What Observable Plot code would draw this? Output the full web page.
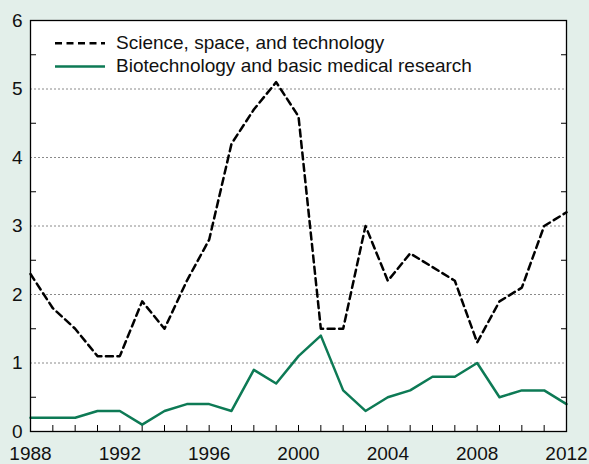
<!DOCTYPE html>
<html><head><meta charset="utf-8">
<script src="https://cdn.jsdelivr.net/npm/d3@7"></script>
<script src="https://cdn.jsdelivr.net/npm/@observablehq/plot@0.6"></script>
<style>
html,body{margin:0;padding:0;background:#e3efea;}
#chart{width:589px;height:464px;}
</style></head><body><div id="chart"></div>
<script>
const years = [1988,1989,1990,1991,1992,1993,1994,1995,1996,1997,1998,1999,2000,2001,2002,2003,2004,2005,2006,2007,2008,2009,2010,2011,2012];
const science = [2.3,1.8,1.5,1.1,1.1,1.9,1.5,2.2,2.8,4.2,4.7,5.1,4.6,1.5,1.5,3.0,2.2,2.6,2.4,2.2,1.3,1.9,2.1,3.0,3.2];
const biotech = [0.2,0.2,0.2,0.3,0.3,0.1,0.3,0.4,0.4,0.3,0.9,0.7,1.1,1.4,0.6,0.3,0.5,0.6,0.8,0.8,1.0,0.5,0.6,0.6,0.4];
const seriesNames = ["Science, space, and technology", "Biotechnology and basic medical research"];
const yLabels = [0,1,2,3,4,5,6];
const yGrid = [1,2,3,4,5];
const yHalf = [0.5,1.5,2.5,3.5,4.5,5.5];
const xLabels = [1988,1992,1996,2000,2004,2008,2012];

const rows = years.map((y,i)=>({year:y, science:science[i], biotech:biotech[i]}));
const green = "#0d7a55";
const font = "'Liberation Sans', Arial, sans-serif";
const fs = 19;

const chart = Plot.plot({
  width: 589, height: 464,
  marginLeft: 30, marginRight: 23, marginTop: 20, marginBottom: 33,
  style: {background: "#e3efea", fontFamily: font, fontSize: fs + "px", color: "#111"},
  x: {domain: [1988, 2012]},
  y: {domain: [0, 6]},
  marks: [
    Plot.frame({fill: "white"}),
    Plot.gridY(yGrid, {stroke: "#8a8a8a", strokeOpacity: 1, strokeDasharray: "2,2", strokeWidth: 1}),
    Plot.axisY(yLabels, {anchor: "left", tickSize: 0, tickPadding: 8, label: null, fontSize: fs, tickFormat: d => String(d)}),
    Plot.axisY(yHalf, {anchor: "left", tickSize: -6, text: null, label: null, stroke: "black"}),
    Plot.axisY(yHalf, {anchor: "right", tickSize: -6, text: null, label: null, stroke: "black"}),
    Plot.axisX(years, {anchor: "bottom", tickSize: -6, text: null, label: null, stroke: "black"}),
    Plot.axisX(xLabels, {anchor: "bottom", tickSize: 0, tickPadding: 15, label: null, fontSize: fs, tickFormat: d => String(d)}),
    Plot.lineY(rows, {x: "year", y: "biotech", stroke: green, strokeWidth: 2.5}),
    Plot.lineY(rows, {x: "year", y: "science", stroke: "black", strokeWidth: 2.5, strokeDasharray: "7,4.5"}),
    Plot.frame({stroke: "black", strokeWidth: 1.3})
  ]
});
document.getElementById("chart").appendChild(chart);

// in-plot legend
const svg = d3.select(chart);
const lg = svg.append("g").attr("font-family", font).attr("font-size", fs).attr("fill", "#111").attr("text-anchor", "start");
const styles = [{stroke: "black", dash: "7,4.5"}, {stroke: green, dash: null}];
seriesNames.forEach((name, i) => {
  const y = 43.3 + i * 23.2;
  const l = lg.append("line").attr("x1", 55).attr("x2", 105).attr("y1", y).attr("y2", y)
    .attr("stroke", styles[i].stroke).attr("stroke-width", 2.5);
  if (styles[i].dash) l.attr("stroke-dasharray", styles[i].dash);
  lg.append("text").attr("x", 116).attr("y", y + 5.2).attr("text-anchor", "start").text(name);
});
</script>
</body></html>
